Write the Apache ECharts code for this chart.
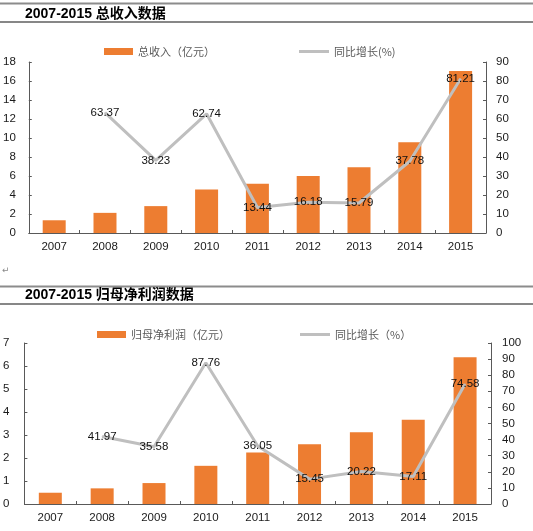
<!DOCTYPE html>
<html>
<head>
<meta charset="utf-8">
<script src="https://cdn.jsdelivr.net/npm/echarts@6/dist/echarts.min.js"></script>
<style>
html,body{margin:0;padding:0;background:#fff;}
#c{width:533px;height:531px;}
</style>
</head>
<body>
<div id="c"></div>
<script>
const years = ['2007','2008','2009','2010','2011','2012','2013','2014','2015'];
const revenue = [1.34, 2.12, 2.83, 4.59, 5.19, 6.0, 6.93, 9.54, 17.05];
const revenueGrowth = [null, 63.37, 38.23, 62.74, 13.44, 16.18, 15.79, 37.78, 81.21];
const profit = [0.49, 0.68, 0.91, 1.66, 2.24, 2.60, 3.12, 3.66, 6.38];
const profitGrowth = [null, 41.97, 35.58, 87.76, 36.05, 15.45, 20.22, 17.11, 74.58];
const title1 = '2007-2015 总收入数据';
const title2 = '2007-2015 归母净利润数据';
const barName1 = '总收入（亿元）';
const lineName1 = '同比增长(%)';
const barName2 = '归母净利润（亿元）';
const lineName2 = '同比增长（%）';

const ORANGE = '#ED7D31';
const GRAY = '#BFBFBF';
const AXIS = '#595959';
const FONT = 'Liberation Sans, Arial, Noto Sans CJK SC, sans-serif';
const CJK = 'Noto Sans CJK SC, sans-serif';

const chart = echarts.init(document.getElementById('c'), null, {renderer:'canvas'});

function xAxis(grid){
  return {type:'category', gridIndex:grid, data:years,
    axisLine:{lineStyle:{color:AXIS,width:1}},
    axisTick:{show:true,inside:true,length:3,lineStyle:{color:AXIS}},
    axisLabel:{color:'#1a1a1a',fontSize:11.5,fontFamily:FONT,margin:8}};
}
function yAxis(grid,max,interval,pos,margin){
  return {type:'value', gridIndex:grid, min:0, max:max, interval:interval, position:pos,
    axisLine:{show:true,lineStyle:{color:AXIS,width:1}},
    axisTick:{show:true,inside:true,length:3,lineStyle:{color:AXIS}},
    splitLine:{show:false},
    axisLabel:{color:'#1a1a1a',fontSize:11.5,fontFamily:FONT,margin:margin}};
}
const dataLabel = {show:true, position:'inside', color:'#111', fontSize:11.5, fontFamily:FONT,
  formatter:p => p.value == null ? '' : Number(p.value).toFixed(2)};

const legendText = {color:'#595959', fontSize:11, fontFamily:CJK};

chart.setOption({
  animation:false,
  graphic:[
    {type:'line', shape:{x1:0,y1:3.5,x2:533,y2:3.5}, style:{stroke:'#8c8c8c',lineWidth:2}},
    {type:'line', shape:{x1:0,y1:22,x2:533,y2:22}, style:{stroke:'#111',lineWidth:1.2}},
    {type:'text', left:25, top:7, style:{text:title1, font:'bold 14px Liberation Sans, Noto Sans CJK SC', fill:'#000'}},
    {type:'text', left:2, top:266, style:{text:'↵', font:'9px DejaVu Sans', fill:'#888'}},
    {type:'line', shape:{x1:0,y1:286.5,x2:533,y2:286.5}, style:{stroke:'#8c8c8c',lineWidth:2}},
    {type:'line', shape:{x1:0,y1:304,x2:533,y2:304}, style:{stroke:'#111',lineWidth:1.2}},
    {type:'text', left:25, top:288, style:{text:title2, font:'bold 14px Liberation Sans, Noto Sans CJK SC', fill:'#000'}}
  ],
  legend:[
    {data:[barName1], left:99, top:41, icon:'rect', itemWidth:29, itemHeight:7, textStyle:legendText, selectedMode:false},
    {data:[lineName1], left:294, top:41, icon:'rect', itemWidth:30, itemHeight:3, textStyle:legendText, selectedMode:false},
    {data:[barName2], left:92, top:324, icon:'rect', itemWidth:29, itemHeight:7, textStyle:legendText, selectedMode:false},
    {data:[lineName2], left:295, top:324, icon:'rect', itemWidth:30, itemHeight:3, textStyle:legendText, selectedMode:false}
  ],
  grid:[
    {left:26, right:47, top:62, bottom:298},
    {left:23, right:42, top:343, bottom:27}
  ],
  xAxis:[xAxis(0), xAxis(1)],
  yAxis:[
    yAxis(0,18,2,'left',13), yAxis(0,90,10,'right',10),
    yAxis(1,7,1,'left',15), yAxis(1,100,10,'right',11)
  ],
  series:[
    {name:barName1, type:'bar', xAxisIndex:0, yAxisIndex:0, data:revenue, barWidth:23, itemStyle:{color:ORANGE}},
    {name:lineName1, type:'line', xAxisIndex:0, yAxisIndex:1, data:revenueGrowth, symbol:'circle', symbolSize:1,
      itemStyle:{color:GRAY}, lineStyle:{color:GRAY,width:3}, label:dataLabel, z:3},
    {name:barName2, type:'bar', xAxisIndex:1, yAxisIndex:2, data:profit, barWidth:23, itemStyle:{color:ORANGE}},
    {name:lineName2, type:'line', xAxisIndex:1, yAxisIndex:3, data:profitGrowth, symbol:'circle', symbolSize:1,
      itemStyle:{color:GRAY}, lineStyle:{color:GRAY,width:3}, label:dataLabel, z:3}
  ]
});
</script>
</body>
</html>
